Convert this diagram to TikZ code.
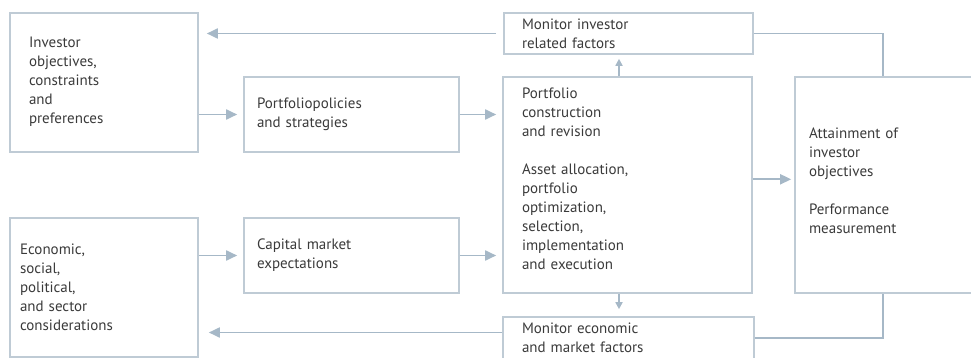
\documentclass[tikz,border=0pt]{standalone}
\usepackage{fontspec}
\setmainfont{PT Sans}
\usetikzlibrary{arrows.meta}
\definecolor{framec}{HTML}{BFCBD5}
\definecolor{linkc}{HTML}{A6B8C7}
\definecolor{inkc}{HTML}{3A3A3A}
% invisible rule that deepens the last line, lifting a text block inside its box
\newcommand{\liftby}[1]{\rule[-#1]{0pt}{#1}}
\begin{document}
\begin{tikzpicture}[x=1pt,y=-1pt,
  panel/.style={draw=framec, line width=1.6pt, align=left, text=inkc,
    font=\fontsize{15}{19}\selectfont, inner ysep=0pt},
  flow/.style={draw=linkc, line width=1.8pt, -{Triangle[length=11pt,width=10pt]}},
  flowsmall/.style={draw=linkc, line width=1.6pt, -{Triangle[length=7pt,width=7pt]}},
  feedback/.style={draw=linkc, line width=1.6pt},
]
\useasboundingbox (0,0) rectangle (971,358);

% left column
\node[panel, minimum width=188pt, minimum height=139pt, text width=150pt, inner xsep=19pt]
  (inv) at (104,82.5) {Investor\\objectives,\\constraints\\and\\preferences\liftby{5pt}};
\node[panel, minimum width=188pt, minimum height=139pt, text width=168pt, inner xsep=10pt]
  (eco) at (104,287.5) {Economic,\\social,\\political,\\and sector\\considerations};

% second column
\node[panel, minimum width=215pt, minimum height=75pt, text width=189pt, inner xsep=13pt]
  (pol) at (351.5,114.5) {Portfoliopolicies\\and strategies};
\node[panel, minimum width=215pt, minimum height=75pt, text width=189pt, inner xsep=13pt]
  (cap) at (351.5,255.5) {Capital market\\expectations};

% centre column
\node[panel, minimum width=249pt, minimum height=41pt, text width=213pt, inner xsep=18pt]
  (moninv) at (628.5,33.5) {Monitor investor\\related factors};
\node[panel, minimum width=249pt, minimum height=216pt, text width=211pt, inner xsep=19pt]
  (cons) at (627.5,185) {Portfolio\\construction\\and revision\\[19pt]Asset allocation,\\portfolio\\optimization,\\selection,\\implementation\\and execution\liftby{12pt}};
\node[panel, minimum width=251pt, minimum height=42pt, text width=213pt, inner xsep=19pt]
  (monec) at (628.5,338) {Monitor economic\\and market factors};

% right column
\node[panel, minimum width=196pt, minimum height=216pt, text width=168pt, inner xsep=14pt]
  (att) at (893,185) {Attainment of\\investor\\objectives\\[19pt]Performance\\measurement\liftby{9pt}};

% forward flow
\draw[flow, shorten >=6pt] (pol.west -| inv.east) -- (pol.west);
\draw[flow, shorten >=6pt] (pol.east) -- (pol.east -| cons.west);
\draw[flow, shorten >=6pt] (cap.west -| eco.east) -- (cap.west);
\draw[flow, shorten >=6pt] (cap.east) -- (cap.east -| cons.west);
\draw[flow, shorten >=3pt] ([yshift=5.7pt]cons.east) -- ([yshift=5.7pt]cons.east -| att.west);
\draw[flowsmall, shorten >=4pt] ([xshift=-8.5pt]cons.north) -- ([xshift=-8.5pt]cons.north |- moninv.south);
\draw[flowsmall, shorten >=7pt] ([xshift=-8.5pt]cons.south) -- ([xshift=-8.5pt]cons.south |- monec.north);

% feedback loops
\draw[feedback] (moninv.east) -| ([xshift=-10pt]att.north);
\draw[feedback] (monec.east) -| ([xshift=-10pt]att.south);
\draw[flow, shorten <=7pt, shorten >=8pt] (moninv.west) -- (moninv.west -| inv.east);
\draw[flow, shorten >=10pt] ([yshift=5.5pt]monec.west) -- ([yshift=5.5pt]monec.west -| eco.east);
\end{tikzpicture}
\end{document}
